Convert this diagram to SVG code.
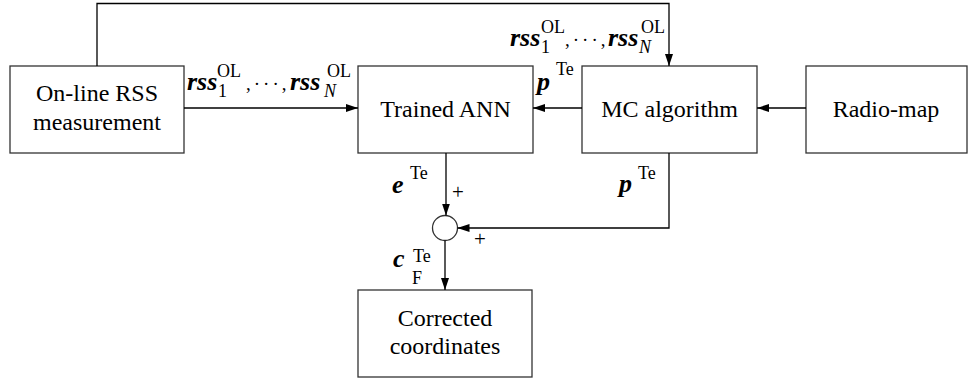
<svg xmlns="http://www.w3.org/2000/svg" width="970" height="378" viewBox="0 0 970 378">
  <defs>
    <marker id="arrow" markerWidth="12" markerHeight="8" refX="12" refY="4" orient="auto" markerUnits="userSpaceOnUse">
      <path d="M0,0 L12,4 L0,8 Z" fill="#000"/>
    </marker>
  </defs>
  <style>
    text { font-family: 'Liberation Serif', 'Times New Roman', Tinos, 'DejaVu Serif', serif; fill: #000; }
    .box { fill: #fff; stroke: #333; stroke-width: 1.3; }
    .lbl { font-size: 24px; text-anchor: middle; }
    .wire { fill: none; stroke: #000; stroke-width: 1.3; }
    .m { font-size: 26px; font-weight: bold; font-style: italic; }
    .s { font-size: 18px; font-weight: normal; font-style: normal; }
    .si { font-size: 18px; font-weight: normal; font-style: italic; }
    .sep { font-size: 19px; font-weight: normal; font-style: normal; letter-spacing: 3px; }
    .pm { font-size: 21px; }
  </style>
  <rect width="970" height="378" fill="#fff"/>

  <g id="node-online">
    <rect class="box" x="10" y="66" width="174" height="87"/>
    <text class="lbl" x="97" y="101">On-line RSS</text>
    <text class="lbl" x="97" y="130">measurement</text>
  </g>
  <g id="node-ann">
    <rect class="box" x="358" y="66" width="175" height="87"/>
    <text class="lbl" x="445.5" y="117">Trained ANN</text>
  </g>
  <g id="node-mc">
    <rect class="box" x="582" y="66" width="175" height="87"/>
    <text class="lbl" x="669.5" y="117">MC algorithm</text>
  </g>
  <g id="node-radiomap">
    <rect class="box" x="806" y="66" width="161" height="87"/>
    <text class="lbl" x="886" y="117">Radio-map</text>
  </g>
  <g id="node-sum">
    <circle class="box" cx="445" cy="228" r="12.5"/>
  </g>
  <g id="node-corrected">
    <rect class="box" x="358" y="290" width="174" height="87"/>
    <text class="lbl" x="445" y="326">Corrected</text>
    <text class="lbl" x="445" y="354">coordinates</text>
  </g>

  <g id="connectors">
    <path class="wire" d="M97,66 V3.5 H669 V66" marker-end="url(#arrow)"/>
    <path class="wire" d="M184,108 H358" marker-end="url(#arrow)"/>
    <path class="wire" d="M582,108 H533" marker-end="url(#arrow)"/>
    <path class="wire" d="M806,108 H757" marker-end="url(#arrow)"/>
    <path class="wire" d="M446,153 V215.5" marker-end="url(#arrow)"/>
    <path class="wire" d="M669,153 V228 H457.5" marker-end="url(#arrow)"/>
    <path class="wire" d="M445,240.5 V290" marker-end="url(#arrow)"/>
  </g>

  <g id="labels">
    <!-- rss_1^OL, ..., rss_N^OL on the measurement to ANN link -->
    <text class="m" x="187" y="90">rss<tspan class="s" x="218" y="97">1</tspan><tspan class="s" x="217" y="77">OL</tspan><tspan class="sep" x="246" y="90">,···,</tspan><tspan x="290" y="90">rss</tspan><tspan class="si" x="324" y="97">N</tspan><tspan class="s" x="327" y="77">OL</tspan></text>

    <!-- same vector on the feedback link into the MC block -->
    <text class="m" x="510" y="46">rss<tspan class="s" x="541" y="53">1</tspan><tspan class="s" x="541" y="33">OL</tspan><tspan class="sep" x="565" y="46">,···,</tspan><tspan x="608" y="46">rss</tspan><tspan class="si" x="639" y="53">N</tspan><tspan class="s" x="641" y="33">OL</tspan></text>

    <!-- p^Te between MC and ANN -->
    <text class="m" x="537" y="90">p<tspan class="s" x="556" y="75">Te</tspan></text>

    <!-- e^Te -->
    <text class="m" x="392" y="193">e<tspan class="s" x="410" y="179">Te</tspan></text>
    <text class="pm" x="452" y="199">+</text>

    <!-- p^Te into the summer -->
    <text class="m" x="619" y="192">p<tspan class="s" x="638" y="179">Te</tspan></text>
    <text class="pm" x="474" y="246">+</text>

    <!-- c_F^Te -->
    <text class="m" x="393" y="267">c<tspan class="s" x="413" y="262">Te</tspan><tspan class="s" x="412" y="284">F</tspan></text>
  </g>
</svg>
